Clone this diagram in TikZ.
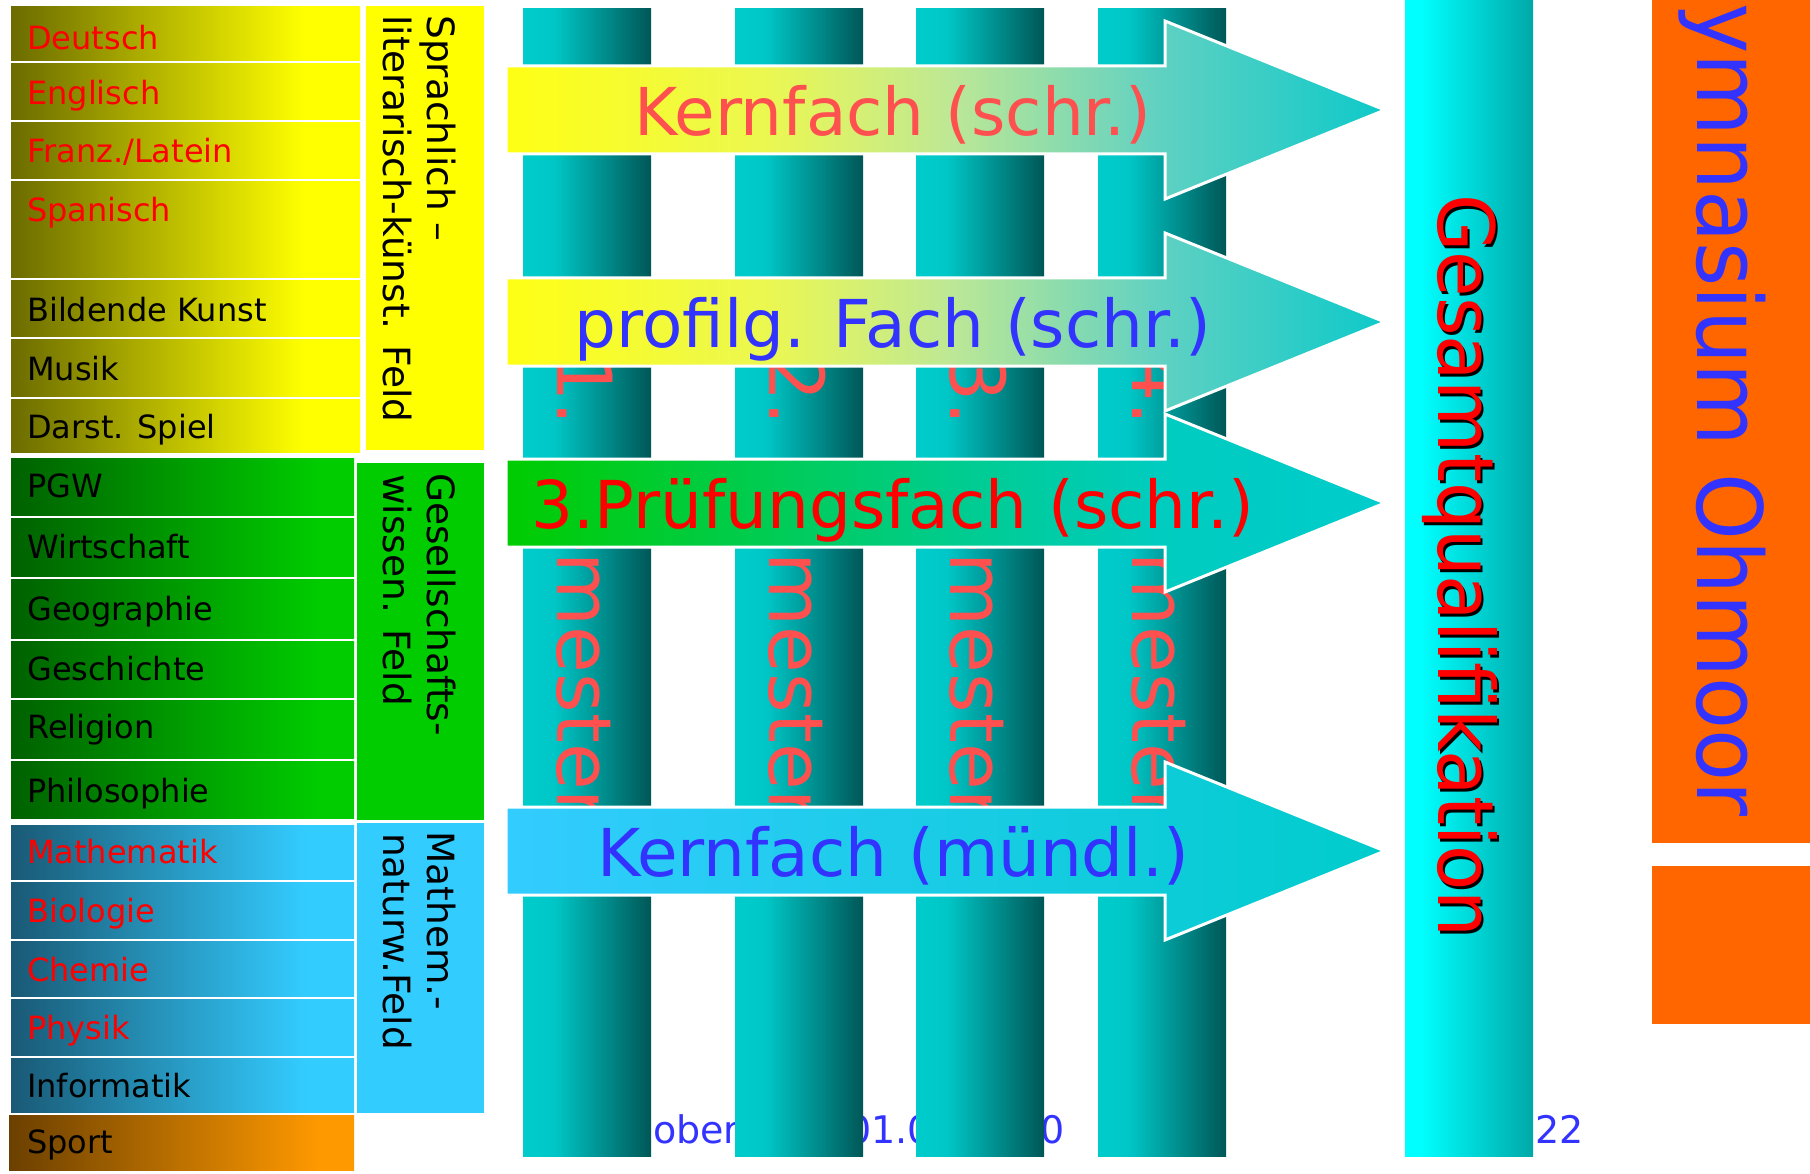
\documentclass[tikz,border=0pt]{standalone}
\usepackage{fontspec}
\setmainfont{DejaVu Sans}
\definecolor{salmon}{RGB}{255,80,80}
\definecolor{vblue}{RGB}{51,51,255}
\definecolor{gymorange}{RGB}{255,102,0}
\definecolor{fieldyel}{RGB}{255,255,0}
\definecolor{fieldgrn}{RGB}{0,204,0}
\definecolor{fieldblu}{RGB}{51,204,255}
\pgfdeclarehorizontalshading{yelsh}{100bp}{rgb(0bp)=(0.42,0.42,0); rgb(25bp)=(0.42,0.42,0); rgb(67bp)=(1,1,0); rgb(100bp)=(1,1,0)}
\pgfdeclarehorizontalshading{grnsh}{100bp}{rgb(0bp)=(0,0.38,0); rgb(25bp)=(0,0.38,0); rgb(70bp)=(0,0.8,0); rgb(100bp)=(0,0.8,0)}
\pgfdeclarehorizontalshading{blush}{100bp}{rgb(0bp)=(0.1,0.35,0.46); rgb(25bp)=(0.1,0.35,0.46); rgb(68bp)=(0.2,0.8,1); rgb(100bp)=(0.2,0.8,1)}
\pgfdeclarehorizontalshading{sprsh}{100bp}{rgb(0bp)=(0.42,0.25,0); rgb(25bp)=(0.42,0.25,0); rgb(70bp)=(1,0.6,0); rgb(100bp)=(1,0.6,0)}
\pgfdeclarehorizontalshading{pilsh}{100bp}{rgb(0bp)=(0,0.8,0.8); rgb(25bp)=(0,0.8,0.8); rgb(37bp)=(0,0.78,0.78); rgb(75bp)=(0,0.34,0.34); rgb(100bp)=(0,0.34,0.34)}
\pgfdeclarehorizontalshading{gessh}{100bp}{rgb(0bp)=(0,1,1); rgb(25bp)=(0,1,1); rgb(31bp)=(0,1,1); rgb(75bp)=(0,0.66,0.66); rgb(100bp)=(0,0.66,0.66)}
\pgfdeclarehorizontalshading{arysh}{100bp}{rgb(0bp)=(1,1,0.08); rgb(25bp)=(1,1,0.08); rgb(40bp)=(0.92,0.97,0.32); rgb(50bp)=(0.75,0.91,0.58); rgb(62bp)=(0.38,0.82,0.76); rgb(75bp)=(0.05,0.79,0.79); rgb(100bp)=(0.05,0.79,0.79)}
\pgfdeclarehorizontalshading{argsh}{100bp}{rgb(0bp)=(0,0.8,0); rgb(25bp)=(0,0.8,0); rgb(50bp)=(0,0.8,0.55); rgb(62bp)=(0,0.8,0.75); rgb(75bp)=(0,0.8,0.8); rgb(100bp)=(0,0.8,0.8)}
\pgfdeclarehorizontalshading{arbsh}{100bp}{rgb(0bp)=(0.2,0.8,1); rgb(25bp)=(0.2,0.8,1); rgb(75bp)=(0,0.8,0.8); rgb(100bp)=(0,0.8,0.8)}
\tikzset{
  subjtxt/.style={anchor=base west, inner sep=0pt, font=\fontsize{32}{38}\selectfont},
  fieldtxt/.style={rotate=-90, anchor=base west, inner sep=0pt, font=\fontsize{37.5}{44}\selectfont, text=black},
  semtxt/.style={rotate=-90, anchor=base west, inner sep=0pt, font=\fontsize{76}{80}\selectfont, text=salmon},
  arrtxt/.style={anchor=base, inner sep=0pt, font=\fontsize{66}{72}\selectfont},
  arrowshape/.style={draw=white, line width=3pt, line join=miter},
  gestxt/.style={rotate=-90, anchor=base west, inner sep=0pt, font=\fontsize{74}{80}\selectfont},
  foottxt/.style={anchor=base west, inner sep=0pt, font=\fontsize{38}{42}\selectfont, text=vblue}
}
\begin{document}
\begin{tikzpicture}[x=1pt,y=-1pt]
\useasboundingbox (0,0) rectangle (1810,1174);
\clip (0,0) rectangle (1810,1174);
\fill[white] (0,0) rectangle (1810,1174);

% ---- language / arts field
\shade[shading=yelsh] (11,7) rectangle (360,61);
\shade[shading=yelsh] (11,64) rectangle (360,120);
\shade[shading=yelsh] (11,123) rectangle (360,179);
\shade[shading=yelsh] (11,182) rectangle (360,278);
\shade[shading=yelsh] (11,281) rectangle (360,337);
\shade[shading=yelsh] (11,340) rectangle (360,396);
\shade[shading=yelsh] (11,399) rectangle (360,452);
\node[subjtxt, text=red] (deutsch) at (27,50) {Deutsch};
\node[subjtxt, text=red] (englisch) at (27,105) {Englisch};
\node[subjtxt, text=red] (franz) at (27,163) {Franz./Latein};
\node[subjtxt, text=red] (spanisch) at (27,222) {Spanisch};
\node[subjtxt, text=black] (kunst) at (27,322) {Bildende Kunst};
\node[subjtxt, text=black] (musik) at (27,380) {Musik};
\node[subjtxt, text=black] (darst) at (27,438) {Darst. Spiel};
\fill[fieldyel] (366,6) rectangle (484,450);
\node[fieldtxt] (sprach1) at (427,15) {Sprachlich –};
\node[fieldtxt] (sprach2) at (383,15) {literarisch-künst. Feld};

% ---- social science field
\shade[shading=grnsh] (11,458) rectangle (354,515);
\shade[shading=grnsh] (11,518) rectangle (354,576);
\shade[shading=grnsh] (11,579) rectangle (354,638);
\shade[shading=grnsh] (11,641) rectangle (354,697);
\shade[shading=grnsh] (11,700) rectangle (354,758);
\shade[shading=grnsh] (11,761) rectangle (354,818);
\node[subjtxt] (pgw) at (27,497) {PGW};
\node[subjtxt] (wirtschaft) at (27,558) {Wirtschaft};
\node[subjtxt] (geographie) at (27,620) {Geographie};
\node[subjtxt] (geschichte) at (27,680) {Geschichte};
\node[subjtxt] (religion) at (27,738) {Religion};
\node[subjtxt] (philosophie) at (27,802) {Philosophie};
\fill[fieldgrn] (357,463) rectangle (484,820);
\node[fieldtxt] (ges1) at (427,473) {Gesellschafts-};
\node[fieldtxt] (ges2) at (383,474) {wissen. Feld};

% ---- maths / science field
\shade[shading=blush] (11,825) rectangle (354,879);
\shade[shading=blush] (11,882) rectangle (354,938);
\shade[shading=blush] (11,941) rectangle (354,996);
\shade[shading=blush] (11,999) rectangle (354,1055);
\shade[shading=blush] (11,1058) rectangle (354,1112);
\shade[shading=sprsh] (9,1115) rectangle (354,1170);
\node[subjtxt, text=red] (mathe) at (27,863) {Mathematik};
\node[subjtxt, text=red] (bio) at (27,922) {Biologie};
\node[subjtxt, text=red] (chemie) at (27,981) {Chemie};
\node[subjtxt, text=red] (physik) at (27,1039) {Physik};
\node[subjtxt, text=black] (info) at (27,1097) {Informatik};
\node[subjtxt, text=black] (sport) at (27,1153) {Sport};
\fill[fieldblu] (357,823) rectangle (484,1113);
\node[fieldtxt] (mat1) at (427,831) {Mathem.-};
\node[fieldtxt] (mat2) at (383,833) {naturw.Feld};

% ---- footer text (behind the pillars)
\node[foottxt] (footer) at (653,1143) {oberstufe 01.09.2010};

% ---- semester pillars
\foreach \xa/\xb in {523/651, 735/863, 916/1044, 1098/1226}
  \shade[shading=pilsh] (\xa,9) rectangle (\xb,1156);
\node[semtxt] (sem1) at (557,353) {1. Semester};
\node[semtxt] (sem2) at (769,353) {2. Semester};
\node[semtxt] (sem3) at (950,353) {3. Semester};
\node[semtxt] (sem4) at (1132,353) {4. Semester};

% ---- arrows
\foreach \c/\sh in {110/arysh, 322/arysh, 503/argsh, 851/arbsh}
  \shadedraw[arrowshape, shading=\sh] (506,\c-44) -- (1165,\c-44) -- (1165,\c-89)
     -- (1385,\c) -- (1165,\c+89) -- (1165,\c+44) -- (506,\c+44) -- cycle;
\node[arrtxt, text=salmon] (kern1) at (893,136) {Kernfach (schr.)};
\node[arrtxt, text=vblue] (profil) at (893,348) {profilg. Fach (schr.)};
\node[arrtxt, text=red] (pruef) at (893,528) {3.Prüfungsfach (schr.)};
\node[arrtxt, text=vblue] (kern2) at (893,876) {Kernfach (mündl.)};

% ---- Gesamtqualifikation
\shade[shading=gessh] (1405,0) rectangle (1533,1156);
\node[gestxt, text=black] (gesshadow) at (1440,197) {\scalebox{1}[1.05]{Gesamtqualifikation}};
\node[gestxt, text=red] (gesamt) at (1438,194) {\scalebox{1}[1.05]{Gesamtqualifikation}};
\node[foottxt] (pagenum) at (1535,1143) {22};

% ---- school name
\fill[gymorange] (1652,0) rectangle (1810,843);
\fill[gymorange] (1652,866) rectangle (1810,1024);
\node[rotate=-90, anchor=base west, inner sep=0pt, font=\fontsize{85}{90}\selectfont, text=vblue] (gym) at (1697,-63) {\scalebox{1}[1.06]{Gymnasium Ohmoor}};
\end{tikzpicture}
\end{document}
